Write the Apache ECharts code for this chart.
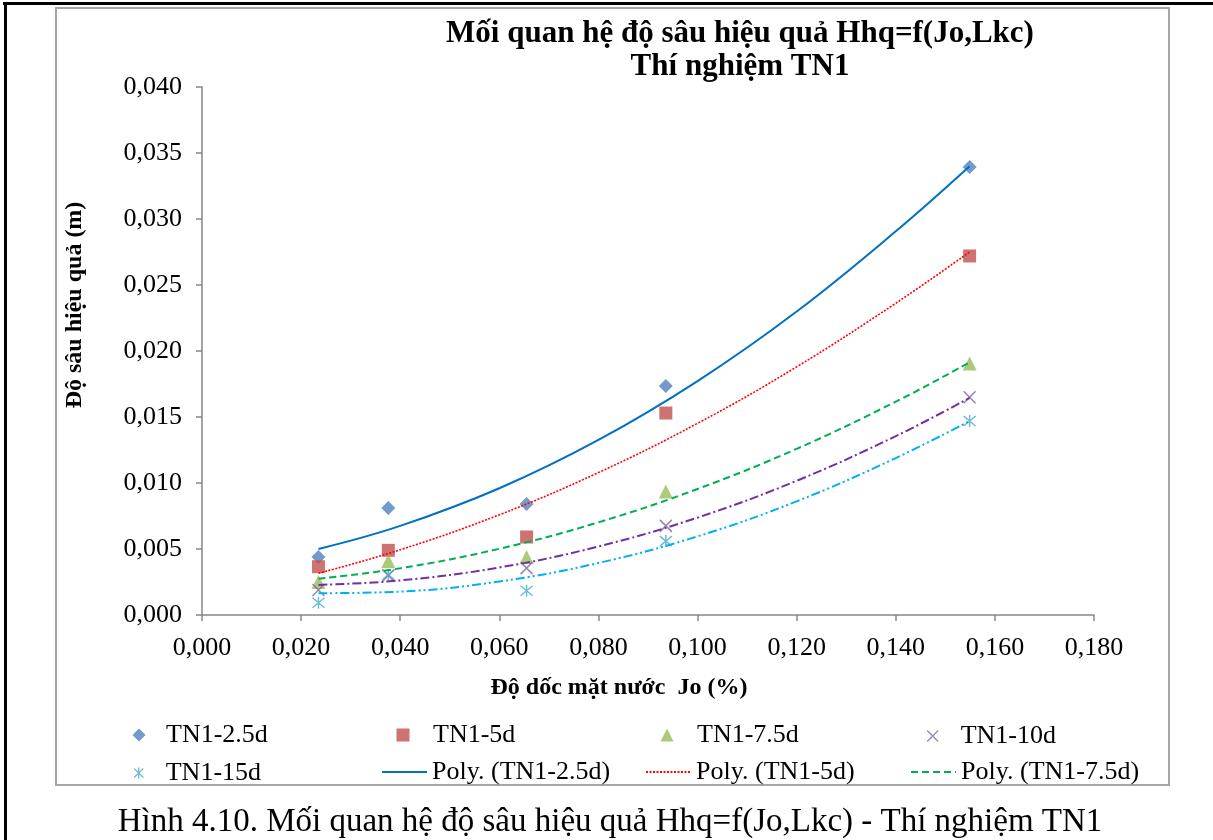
<!DOCTYPE html>
<html>
<head>
<meta charset="utf-8">
<title>Mối quan hệ độ sâu hiệu quả Hhq=f(Jo,Lkc)</title>
<script src="https://cdn.jsdelivr.net/npm/echarts@6/dist/echarts.min.js"></script>
<style>
  html, body { margin: 0; padding: 0; background: #fff; }
  #chart { width: 1213px; height: 840px; }
</style>
</head>
<body>
<div id="chart"></div>
<script>
// Slope of water surface Jo (%) at which each test was measured
const joValues = [0.0235, 0.0376, 0.0655, 0.0936, 0.1549];

// Effective depth Hhq (m) measured for each spacing
const depth2_5d = [0.00439, 0.00811, 0.00841, 0.01735, 0.03394];
const depth5d   = [0.00366, 0.00490, 0.00591, 0.01530, 0.02720];
const depth7_5d = [0.00250, 0.00410, 0.00440, 0.00935, 0.01905];
const depth10d  = [0.00190, 0.00300, 0.00355, 0.00675, 0.01650];
const depth15d  = [0.00093, 0.00305, 0.00184, 0.00560, 0.01470];

// Polynomial trend curves, sampled along Jo
const trendJo   = [0.0235, 0.04, 0.06, 0.08, 0.10, 0.12, 0.14, 0.1549];
const poly2_5d  = [0.00500, 0.00675, 0.00960, 0.01326, 0.01772, 0.02299, 0.02907, 0.03400];
const poly5d    = [0.00316, 0.00494, 0.00759, 0.01079, 0.01452, 0.01880, 0.02362, 0.02750];
const poly7_5d  = [0.00275, 0.00354, 0.00502, 0.00702, 0.00955, 0.01259, 0.01616, 0.01914];
const poly10d   = [0.00228, 0.00262, 0.00360, 0.00519, 0.00738, 0.01017, 0.01355, 0.01645];
const poly15d   = [0.00165, 0.00177, 0.00254, 0.00394, 0.00596, 0.00861, 0.01189, 0.01470];

// Axis tick labels (comma decimal separator)
const xTickLabels = ['0,000', '0,020', '0,040', '0,060', '0,080', '0,100', '0,120', '0,140', '0,160', '0,180'];
const yTickLabels = ['0,000', '0,005', '0,010', '0,015', '0,020', '0,025', '0,030', '0,035', '0,040'];

const SERIF = '"Liberation Serif", "Times New Roman", "DejaVu Serif", serif';
const AXIS_GRAY = '#868686';

function pairs(xs, ys) {
  return xs.map(function (x, i) { return [x, ys[i]]; });
}

const crossPath = 'path://M0,0L10,10M10,0L0,10';
const starPath = 'path://M0,0L10,10M10,0L0,10M5,-1L5,11';

function markerSeries(name, ys, symbol, size, color, stroked) {
  return {
    name: name,
    type: 'scatter',
    data: pairs(joValues, ys),
    symbol: symbol,
    symbolSize: size,
    z: 2,
    itemStyle: stroked
      ? { color: 'transparent', borderColor: color, borderWidth: 1.5 }
      : { color: color },
    emphasis: { disabled: true }
  };
}

function trendSeries(name, ys, color, type, width) {
  return {
    name: name,
    type: 'line',
    data: pairs(trendJo, ys),
    symbol: 'none',
    smooth: 0.4,
    z: 3,
    lineStyle: { color: color, width: width, type: type },
    itemStyle: { color: color },
    emphasis: { disabled: true }
  };
}

// one legend box per entry so the entries sit on a fixed 4-column grid
function legendItem(name, left, top, itemWidth, itemHeight, textGap, extra) {
  const entry = Object.assign({ name: name }, extra || {});
  return {
    data: [entry],
    left: left,
    top: top,
    padding: 0,
    itemWidth: itemWidth,
    itemHeight: itemHeight,
    selectedMode: false,
    textStyle: {
      fontFamily: SERIF, fontSize: 26, color: '#000',
      padding: [0, 0, 0, textGap]
    }
  };
}

const hideDot = { itemStyle: { opacity: 0 } };
const thinStroke = { itemStyle: { borderWidth: 1.3 } };

const option = {
  backgroundColor: '#ffffff',
  animation: false,
  title: [
    {
      text: 'Mối quan hệ độ sâu hiệu quả Hhq=f(Jo,Lkc)\nThí nghiệm TN1',
      left: 740,
      top: 17,
      textAlign: 'center',
      padding: 0,
      textStyle: { fontFamily: SERIF, fontSize: 31, fontWeight: 'bold', color: '#000', lineHeight: 33 }
    },
    {
      text: 'Hình 4.10. Mối quan hệ độ sâu hiệu quả Hhq=f(Jo,Lkc) - Thí nghiệm TN1',
      left: 610,
      top: 806,
      textAlign: 'center',
      padding: 0,
      textStyle: { fontFamily: SERIF, fontSize: 33, fontWeight: 'normal', color: '#000' }
    }
  ],
  grid: { left: 202, right: 119, top: 87, bottom: 225, containLabel: false },
  xAxis: {
    type: 'value',
    min: 0,
    max: 0.18,
    interval: 0.02,
    axisLine: { show: true, lineStyle: { color: AXIS_GRAY, width: 1.5 } },
    axisTick: { show: true, length: 6, lineStyle: { color: AXIS_GRAY, width: 1.5 } },
    splitLine: { show: false },
    axisLabel: {
      margin: 20,
      fontFamily: SERIF,
      fontSize: 26,
      color: '#000',
      formatter: function (v) { return xTickLabels[Math.round(v / 0.02)]; }
    }
  },
  yAxis: {
    type: 'value',
    min: 0,
    max: 0.04,
    interval: 0.005,
    axisLine: { show: true, lineStyle: { color: AXIS_GRAY, width: 1.5 } },
    axisTick: { show: true, length: 6, lineStyle: { color: AXIS_GRAY, width: 1.5 } },
    splitLine: { show: false },
    axisLabel: {
      margin: 20,
      fontFamily: SERIF,
      fontSize: 26,
      color: '#000',
      formatter: function (v) { return yTickLabels[Math.round(v / 0.005)]; }
    }
  },
  legend: [
    legendItem('TN1-2.5d', 132.5, 722, 13, 13, 15.5),
    legendItem('TN1-5d', 396.5, 722, 13, 13, 18.5),
    legendItem('TN1-7.5d', 660.5, 722, 13, 13, 18.5),
    legendItem('TN1-10d', 926.5, 723, 11, 11, 17.5, thinStroke),
    legendItem('TN1-15d', 133.5, 760, 11, 11, 16.5, thinStroke),
    legendItem('Poly. (TN1-2.5d)', 381, 759, 45, 14, 0, hideDot),
    legendItem('Poly. (TN1-5d)', 645, 759, 45, 14, 0, hideDot),
    legendItem('Poly. (TN1-7.5d)', 910, 759, 45, 14, 0, hideDot)
  ],
  series: [
    markerSeries('TN1-2.5d', depth2_5d, 'diamond', 14, '#4F81BD', false),
    markerSeries('TN1-5d', depth5d, 'rect', 13, '#C0504D', false),
    markerSeries('TN1-7.5d', depth7_5d, 'triangle', 14, '#9BBB59', false),
    markerSeries('TN1-10d', depth10d, crossPath, 12, '#8064A2', true),
    markerSeries('TN1-15d', depth15d, starPath, 12, '#4BACC6', true),
    trendSeries('Poly. (TN1-2.5d)', poly2_5d, '#0070C0', 'solid', 2),
    trendSeries('Poly. (TN1-5d)', poly5d, '#FF0000', [2, 1.5], 1.6),
    trendSeries('Poly. (TN1-7.5d)', poly7_5d, '#00B050', [7, 4], 2),
    trendSeries('Poly. (TN1-10d)', poly10d, '#7030A0', [9, 3, 2, 3], 2),
    trendSeries('Poly. (TN1-15d)', poly15d, '#00B0F0', [9, 3, 2, 3, 2, 3], 2)
  ],
  graphic: [
    // chart frame
    {
      type: 'rect', z: -10, silent: true,
      shape: { x: 56, y: 8, width: 1113, height: 777 },
      style: { fill: 'none', stroke: '#A6A6A6', lineWidth: 2 }
    },
    // page border lines
    { type: 'rect', silent: true, shape: { x: 3, y: 2, width: 1210, height: 3 }, style: { fill: '#000' } },
    { type: 'rect', silent: true, shape: { x: 4, y: 2, width: 3, height: 838 }, style: { fill: '#000' } },
    // axis titles
    {
      type: 'text', silent: true,
      x: 75, y: 305, rotation: Math.PI / 2,
      style: {
        text: 'Độ sâu hiệu quả (m)',
        font: 'bold 24px ' + SERIF,
        fill: '#000',
        align: 'center',
        verticalAlign: 'middle'
      }
    },
    {
      type: 'text', silent: true,
      x: 619, y: 688,
      style: {
        text: 'Độ dốc mặt nước  Jo (%)',
        font: 'bold 24px ' + SERIF,
        fill: '#000',
        align: 'center',
        verticalAlign: 'middle'
      }
    }
  ]
};

const chart = echarts.init(document.getElementById('chart'), null, { renderer: 'canvas' });
chart.setOption(option);
</script>
</body>
</html>
